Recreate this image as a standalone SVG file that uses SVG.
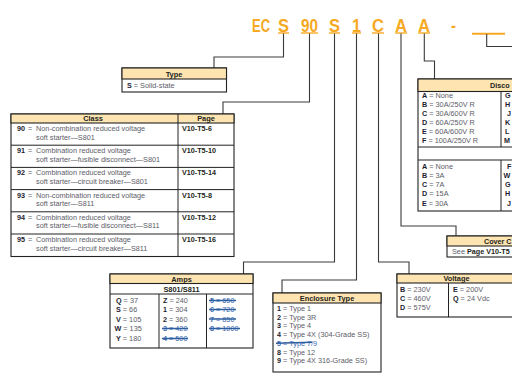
<svg xmlns="http://www.w3.org/2000/svg" width="512" height="376" viewBox="0 0 512 376">
<style>
.code{font-family:"Liberation Sans",Arial,sans-serif;font-weight:bold;font-size:18px;fill:#F6A924}
.ul{stroke:#F6A924;stroke-width:1.4}
.con{fill:none;stroke:#3a3a3a;stroke-width:1.1}
.box{fill:#fff;stroke:#222;stroke-width:1.1}
.hdr{fill:#FDE4B0;stroke:#222;stroke-width:1.1}
.sep{stroke:#222;stroke-width:1}
.ht{font-family:"Liberation Sans",Arial,sans-serif;font-weight:bold;font-size:7.4px;fill:#231F20;text-anchor:middle}
.k{font-family:"Liberation Sans",Arial,sans-serif;font-weight:bold;font-size:7.2px;fill:#1c1c30}
.t{font-family:"Liberation Sans",Arial,sans-serif;font-size:7.3px;fill:#5d5d68}
.pg{font-family:"Liberation Sans",Arial,sans-serif;font-weight:bold;font-size:7.2px;fill:#231F20}
.x{font-family:"Liberation Sans",Arial,sans-serif;font-size:7.3px;fill:#3E6DB5}
.xk{font-family:"Liberation Sans",Arial,sans-serif;font-weight:bold;font-size:7.2px;fill:#3E6DB5}
.strike{stroke:#2F5E9E;stroke-width:1.5}
</style>

<g id="code">
<text class="code" x="252" y="31.5" textLength="18" lengthAdjust="spacingAndGlyphs">EC</text>
<text class="code" x="278" y="31.5" textLength="11" lengthAdjust="spacingAndGlyphs">S</text>
<text class="code" x="301" y="31.5" textLength="17" lengthAdjust="spacingAndGlyphs">90</text>
<text class="code" x="329" y="31.5" textLength="11" lengthAdjust="spacingAndGlyphs">S</text>
<text class="code" x="352" y="31.5" textLength="9" lengthAdjust="spacingAndGlyphs">1</text>
<text class="code" x="372" y="31.5" textLength="12" lengthAdjust="spacingAndGlyphs">C</text>
<text class="code" x="395" y="31.5" textLength="12" lengthAdjust="spacingAndGlyphs">A</text>
<text class="code" x="418" y="31.5" textLength="12" lengthAdjust="spacingAndGlyphs">A</text>
<text class="code" x="451" y="31.5" textLength="5" lengthAdjust="spacingAndGlyphs">-</text>
<line class="ul" x1="278" y1="33" x2="289" y2="33"/>
<line class="ul" x1="301" y1="33" x2="318" y2="33"/>
<line class="ul" x1="329" y1="33" x2="340" y2="33"/>
<line class="ul" x1="352" y1="33" x2="361" y2="33"/>
<line class="ul" x1="372" y1="33" x2="384" y2="33"/>
<line class="ul" x1="395" y1="33" x2="407" y2="33"/>
<line class="ul" x1="418" y1="33" x2="430" y2="33"/>
<line x1="472" y1="33.7" x2="505" y2="33.7" stroke="#F6A924" stroke-width="2"/>
</g>

<g id="connectors">
<polyline class="con" points="283.5,33.5 283.5,57 214,57 214,68"/>
<polyline class="con" points="309.5,33.5 309.5,102 223,102 223,114"/>
<polyline class="con" points="334.5,33.5 334.5,262 243.5,262 243.5,274"/>
<polyline class="con" points="356.5,33.5 356.5,280 282,280 282,293"/>
<polyline class="con" points="378.5,33.5 378.5,262 409,262 409,274"/>
<polyline class="con" points="401,33.5 401,226 456,226 456,236"/>
<polyline class="con" points="424.3,33.5 424.3,61 434.5,61 434.5,79"/>
<polyline class="con" points="486.7,34 486.7,46.5 513,46.5"/>
</g>

<g id="type">
<rect class="box" x="122" y="68" width="104.5" height="24"/>
<rect class="hdr" x="122" y="68" width="104.5" height="11"/>
<text class="ht" x="174" y="76.5">Type</text>
<text x="127" y="88"><tspan class="k">S</tspan><tspan class="t"> = Solid-state</tspan></text>
</g>

<g id="class">
<rect class="box" x="11" y="114" width="223" height="142.5"/>
<rect class="hdr" x="11" y="114" width="223" height="9"/>
<line class="sep" x1="178" y1="114" x2="178" y2="256.5"/>
<text class="ht" x="93" y="121">Class</text>
<text class="ht" x="206" y="121">Page</text>
<line class="sep" x1="11" y1="145.2" x2="234" y2="145.2"/>
<line class="sep" x1="11" y1="167.4" x2="234" y2="167.4"/>
<line class="sep" x1="11" y1="189.6" x2="234" y2="189.6"/>
<line class="sep" x1="11" y1="211.8" x2="234" y2="211.8"/>
<line class="sep" x1="11" y1="234" x2="234" y2="234"/>
<text class="k" x="17" y="131">90</text><text class="t" x="28" y="131">=</text><text class="t" x="36" y="131">Non-combination reduced voltage</text>
<text class="t" x="36" y="139.5">soft starter—S801</text><text class="pg" x="182" y="131">V10-T5-6</text>
<text class="k" x="17" y="153.2">91</text><text class="t" x="28" y="153.2">=</text><text class="t" x="36" y="153.2">Combination reduced voltage</text>
<text class="t" x="36" y="161.7">soft starter—fusible disconnect—S801</text><text class="pg" x="182" y="153.2">V10-T5-10</text>
<text class="k" x="17" y="175.4">92</text><text class="t" x="28" y="175.4">=</text><text class="t" x="36" y="175.4">Combination reduced voltage</text>
<text class="t" x="36" y="183.9">soft starter—circuit breaker—S801</text><text class="pg" x="182" y="175.4">V10-T5-14</text>
<text class="k" x="17" y="197.6">93</text><text class="t" x="28" y="197.6">=</text><text class="t" x="36" y="197.6">Non-combination reduced voltage</text>
<text class="t" x="36" y="206.1">soft starter—S811</text><text class="pg" x="182" y="197.6">V10-T5-8</text>
<text class="k" x="17" y="219.8">94</text><text class="t" x="28" y="219.8">=</text><text class="t" x="36" y="219.8">Combination reduced voltage</text>
<text class="t" x="36" y="228.3">soft starter—fusible disconnect—S811</text><text class="pg" x="182" y="219.8">V10-T5-12</text>
<text class="k" x="17" y="242">95</text><text class="t" x="28" y="242">=</text><text class="t" x="36" y="242">Combination reduced voltage</text>
<text class="t" x="36" y="250.5">soft starter—circuit breaker—S811</text><text class="pg" x="182" y="242">V10-T5-16</text>
</g>

<g id="amps">
<rect class="box" x="110" y="274" width="143" height="74"/>
<rect class="hdr" x="110" y="274" width="143" height="9.5"/>
<text class="ht" x="181.5" y="281.5">Amps</text>
<line class="sep" x1="110" y1="294" x2="253" y2="294"/>
<text class="ht" x="181.5" y="291.5">S801/S811</text>
<line class="sep" x1="159" y1="294" x2="159" y2="348"/>
<line class="sep" x1="206.5" y1="294" x2="206.5" y2="348"/>
<text x="116" y="303"><tspan class="k">Q</tspan><tspan class="t"> = 37</tspan></text>
<text x="116" y="312"><tspan class="k">S</tspan><tspan class="t"> = 66</tspan></text>
<text x="116" y="321.5"><tspan class="k">V</tspan><tspan class="t"> = 105</tspan></text>
<text x="114.5" y="331"><tspan class="k">W</tspan><tspan class="t"> = 135</tspan></text>
<text x="116" y="341"><tspan class="k">Y</tspan><tspan class="t"> = 180</tspan></text>
<text x="163" y="303"><tspan class="k">Z</tspan><tspan class="t"> = 240</tspan></text>
<text x="163" y="312"><tspan class="k">1</tspan><tspan class="t"> = 304</tspan></text>
<text x="163" y="321.5"><tspan class="k">2</tspan><tspan class="t"> = 360</tspan></text>
<text x="163" y="331"><tspan class="xk">3</tspan><tspan class="x"> = 420</tspan></text>
<text x="163" y="341"><tspan class="xk">4</tspan><tspan class="x"> = 500</tspan></text>
<line class="strike" x1="162" y1="328.5" x2="188" y2="328.5"/>
<line class="strike" x1="162" y1="338.5" x2="188" y2="338.5"/>
<text x="210" y="303"><tspan class="xk">5</tspan><tspan class="x"> = 650</tspan></text>
<text x="210" y="312"><tspan class="xk">6</tspan><tspan class="x"> = 720</tspan></text>
<text x="210" y="321.5"><tspan class="xk">7</tspan><tspan class="x"> = 850</tspan></text>
<text x="210" y="331"><tspan class="xk">8</tspan><tspan class="x"> = 1000</tspan></text>
<line class="strike" x1="209" y1="300.5" x2="236" y2="300.5"/>
<line class="strike" x1="209" y1="309.5" x2="236" y2="309.5"/>
<line class="strike" x1="209" y1="319" x2="236" y2="319"/>
<line class="strike" x1="209" y1="328.5" x2="240" y2="328.5"/>
</g>

<g id="enclosure">
<rect class="box" x="273" y="293" width="108" height="79"/>
<rect class="hdr" x="273" y="293" width="108" height="10"/>
<text class="ht" x="327" y="300.8">Enclosure Type</text>
<text x="277" y="311"><tspan class="k">1</tspan><tspan class="t"> = Type 1</tspan></text>
<text x="277" y="319.7"><tspan class="k">2</tspan><tspan class="t"> = Type 3R</tspan></text>
<text x="277" y="328.4"><tspan class="k">3</tspan><tspan class="t"> = Type 4</tspan></text>
<text x="277" y="337.1"><tspan class="k">4</tspan><tspan class="t"> = Type 4X (304-Grade SS)</tspan></text>
<text x="277" y="345.8"><tspan class="xk">5</tspan><tspan class="x"> = Type 7/9</tspan></text>
<line class="strike" x1="276" y1="343.3" x2="312" y2="342.3"/>
<text x="277" y="354.5"><tspan class="k">8</tspan><tspan class="t"> = Type 12</tspan></text>
<text x="277" y="363.2"><tspan class="k">9</tspan><tspan class="t"> = Type 4X 316-Grade SS)</tspan></text>
</g>

<g id="voltage">
<rect class="box" x="397" y="274" width="120" height="43"/>
<rect class="hdr" x="397" y="274" width="120" height="9"/>
<text class="ht" x="456.5" y="281">Voltage</text>
<line class="sep" x1="448.5" y1="283" x2="448.5" y2="317"/>
<text x="400" y="292"><tspan class="k">B</tspan><tspan class="t"> = 230V</tspan></text>
<text x="400" y="300.5"><tspan class="k">C</tspan><tspan class="t"> = 460V</tspan></text>
<text x="400" y="309.5"><tspan class="k">D</tspan><tspan class="t"> = 575V</tspan></text>
<text x="453" y="292"><tspan class="k">E</tspan><tspan class="t"> = 200V</tspan></text>
<text x="453" y="300.5"><tspan class="k">Q</tspan><tspan class="t"> = 24 Vdc</tspan></text>
</g>

<g id="cover">
<rect class="box" x="447" y="236" width="70" height="21"/>
<rect class="hdr" x="447" y="236" width="70" height="10"/>
<text class="pg" x="484" y="243.5">Cover C</text>
<text x="452" y="254"><tspan class="t">See </tspan><tspan class="pg">Page V10-T5</tspan></text>
</g>

<g id="disconnect">
<rect class="box" x="418" y="79" width="99" height="132"/>
<rect class="hdr" x="418" y="79" width="99" height="12.5"/>
<text class="pg" x="490" y="88">Disco</text>
<line class="sep" x1="501" y1="91.5" x2="501" y2="147"/>
<line class="sep" x1="418" y1="147" x2="517" y2="147"/>
<line class="sep" x1="418" y1="160" x2="517" y2="160"/>
<line class="sep" x1="501" y1="160" x2="501" y2="211"/>
<text x="422" y="98"><tspan class="k">A</tspan><tspan class="t"> = None</tspan></text>
<text x="422" y="107"><tspan class="k">B</tspan><tspan class="t"> = 30A/250V R</tspan></text>
<text x="422" y="116"><tspan class="k">C</tspan><tspan class="t"> = 30A/600V R</tspan></text>
<text x="422" y="125"><tspan class="k">D</tspan><tspan class="t"> = 60A/250V R</tspan></text>
<text x="422" y="134"><tspan class="k">E</tspan><tspan class="t"> = 60A/600V R</tspan></text>
<text x="422" y="143"><tspan class="k">F</tspan><tspan class="t"> = 100A/250V R</tspan></text>
<text class="k" x="505" y="98">G</text>
<text class="k" x="505" y="107">H</text>
<text class="k" x="507" y="116">J</text>
<text class="k" x="505" y="125">K</text>
<text class="k" x="505" y="134">L</text>
<text class="k" x="504" y="143">M</text>
<text x="422" y="168.5"><tspan class="k">A</tspan><tspan class="t"> = None</tspan></text>
<text x="422" y="177.5"><tspan class="k">B</tspan><tspan class="t"> = 3A</tspan></text>
<text x="422" y="186.5"><tspan class="k">C</tspan><tspan class="t"> = 7A</tspan></text>
<text x="422" y="195.5"><tspan class="k">D</tspan><tspan class="t"> = 15A</tspan></text>
<text x="422" y="205.5"><tspan class="k">E</tspan><tspan class="t"> = 30A</tspan></text>
<text class="k" x="507" y="168.5">F</text>
<text class="k" x="503.5" y="177.5">W</text>
<text class="k" x="505" y="186.5">G</text>
<text class="k" x="505" y="195.5">H</text>
<text class="k" x="507" y="205.5">J</text>
</g>
</svg>
